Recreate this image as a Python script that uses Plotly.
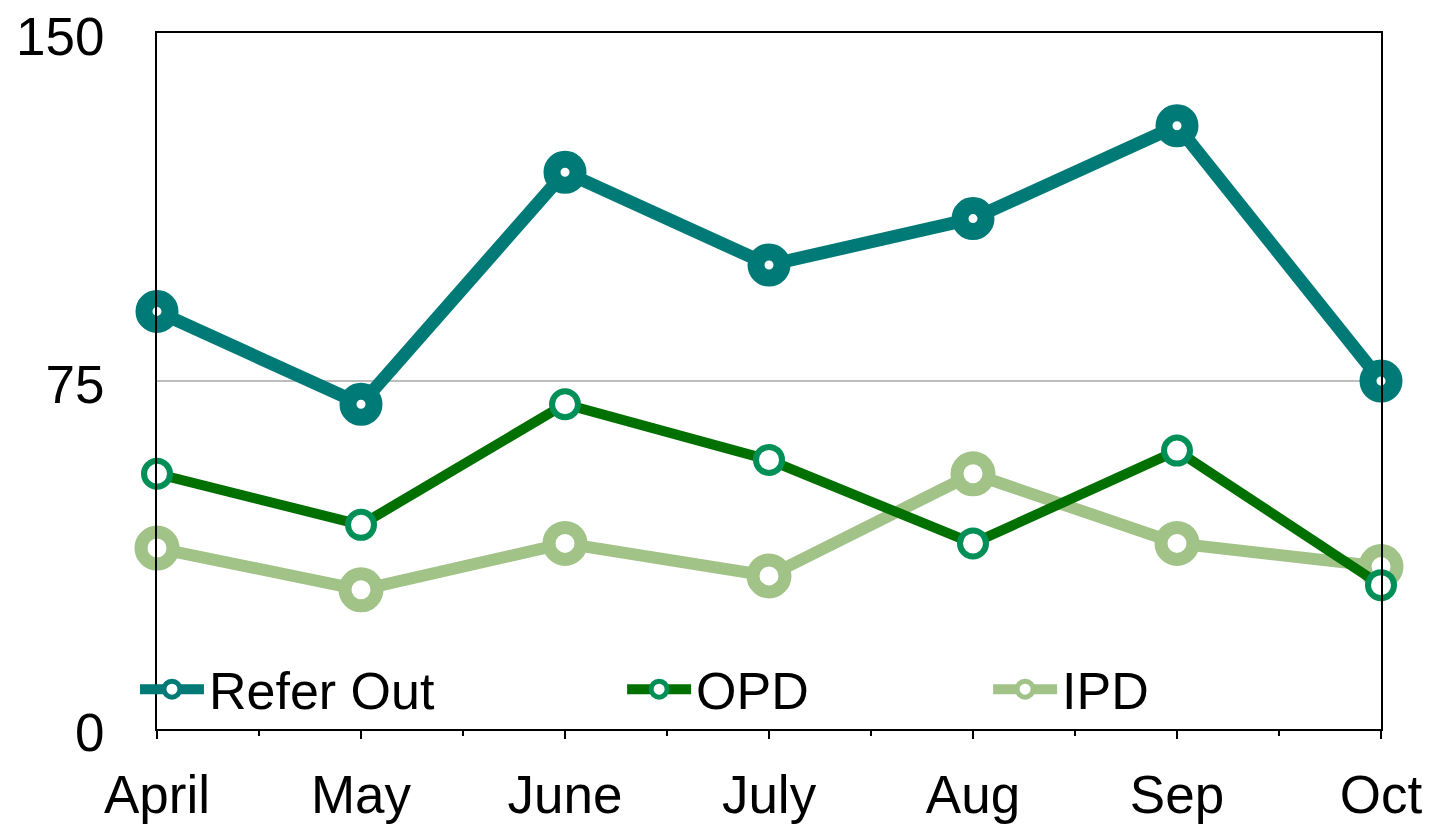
import plotly.graph_objects as go

months = ["April", "May", "June", "July", "Aug", "Sep", "Oct"]
refer_out = [90, 70, 120, 100, 110, 130, 75]
opd = [55, 44, 70, 58, 40, 60, 31]
ipd = [39, 30, 40, 33, 55, 40, 35]
y_ticks = [0, 75, 150]

x = list(range(len(months)))
FONT = "Liberation Sans, Arial, Helvetica, sans-serif"

fig = go.Figure()
fig.add_trace(go.Scatter(
    x=x, y=ipd, name="IPD", mode="lines+markers", legend="legend3", cliponaxis=False,
    line=dict(color="#A1C387", width=12),
    marker=dict(symbol="circle", size=32, color="white", line=dict(color="#A1C387", width=13)),
))
fig.add_trace(go.Scatter(
    x=x, y=opd, name="OPD", mode="lines+markers", legend="legend2", cliponaxis=False,
    line=dict(color="#007000", width=10),
    marker=dict(symbol="circle", size=26, color="white", line=dict(color="#008F57", width=6)),
))
fig.add_trace(go.Scatter(
    x=x, y=refer_out, name="Refer Out", mode="lines+markers", legend="legend", cliponaxis=False,
    line=dict(color="#007A76", width=13),
    marker=dict(symbol="circle", size=26, color="white", line=dict(color="#007A76", width=17)),
))

leg_common = dict(orientation="h", font=dict(family=FONT, size=52, color="black"),
                  bgcolor="rgba(0,0,0,0)", xanchor="left", yanchor="middle",
                  y=0.057, itemwidth=64)
fig.update_layout(
    width=1434, height=825,
    margin=dict(l=149, r=61, t=25, b=104),
    paper_bgcolor="white", plot_bgcolor="white",
    showlegend=True,
    font=dict(family=FONT, size=53, color="black"),
    legend=dict(x=-0.018, **leg_common),
    legend2=dict(x=0.3800, **leg_common),
    legend3=dict(x=0.6790, **leg_common),
    xaxis=dict(
        range=[0, 6], tickvals=x, ticktext=months, automargin=False,
        showline=True, linecolor="black", linewidth=2, mirror=True,
        ticks="outside", ticklen=8, tickwidth=2, tickcolor="black",
        minor=dict(dtick=0.5, tick0=0, ticks="outside", ticklen=5, tickwidth=2, tickcolor="black"),
        showgrid=False, zeroline=False,
        tickfont=dict(family=FONT, size=53), ticklabelstandoff=10,
    ),
    yaxis=dict(
        range=[0, 150], tickvals=y_ticks, automargin=False,
        showline=True, linecolor="black", linewidth=2, mirror=True,
        ticks="", showgrid=True, gridcolor="#BDBDBD", gridwidth=2, zeroline=False,
        tickfont=dict(family=FONT, size=53), ticklabelstandoff=40,
        ticklabelshift=3, ticklabeloverflow="allow",
    ),
)

fig.write_html("out.html")
